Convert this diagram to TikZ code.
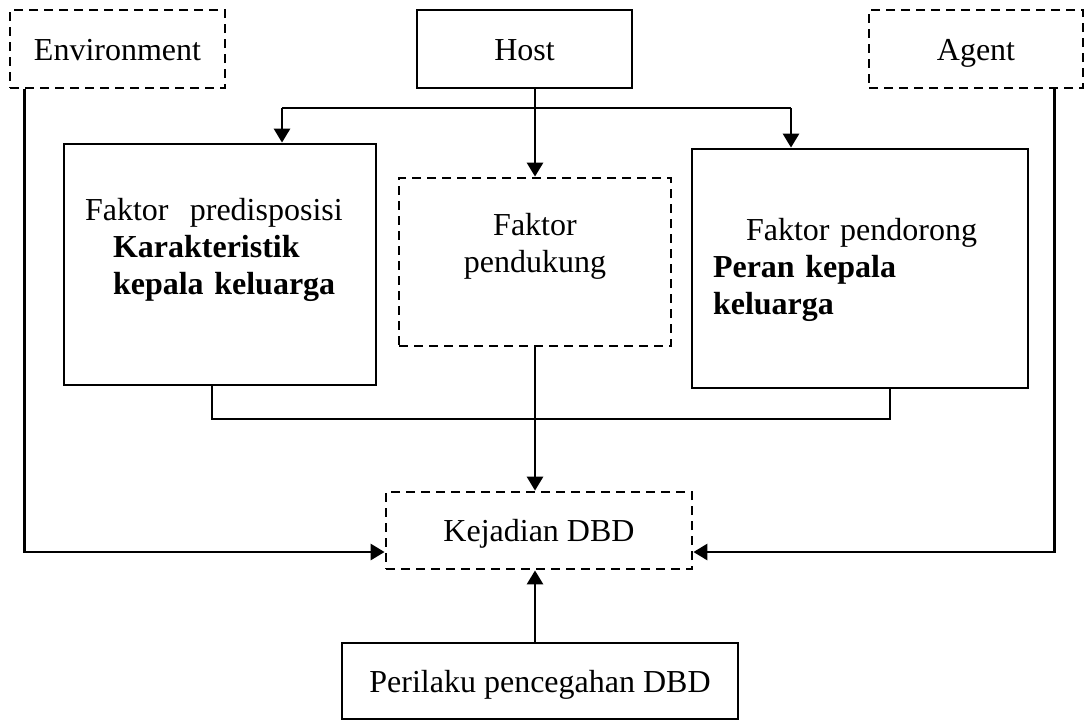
\documentclass[tikz,border=0pt]{standalone}
\usepackage{fontspec}
\setmainfont{Liberation Serif}
\usetikzlibrary{arrows.meta,calc}

\begin{document}
\begin{tikzpicture}[
    x=0.5pt, y=-0.5pt,
    every node/.style={font=\fontsize{16pt}{18.5pt}\selectfont},
    box/.style={rectangle, draw, line width=1.4pt, inner sep=0pt},
    dbox/.style={box, dash pattern=on 4.5pt off 3pt},
    oneline/.style={text height=11pt, text depth=0pt},
    line/.style={line width=1.4pt},
    arrow/.style={line, -{Triangle[length=7pt, width=8pt]}}
]
    \useasboundingbox (0,0) rectangle (1085,720);

    \node[dbox, oneline, minimum width=107.5pt, minimum height=39pt] (env) at (117.5,49) {Environment};
    \node[box, oneline, minimum width=107.5pt, minimum height=39pt] (host) at (524.5,49) {Host};
    \node[dbox, oneline, minimum width=107pt, minimum height=39pt] (agent) at (976,49) {Agent};

    \node[box, minimum width=156pt, minimum height=120.5pt, text width=135pt, align=left,
          text height=11pt, text depth=55.5pt] (predis) at (220,264.5)
          {Faktor\ \ predisposisi\\\hspace*{14pt}\textbf{Karakteristik}\\\hspace*{14pt}\textbf{kepala keluarga}};
    \node[dbox, minimum width=136pt, minimum height=84pt, text width=120pt, align=center,
          text height=11pt, text depth=38pt] (dukung) at (535,262) {Faktor\\pendukung};
    \node[box, minimum width=168pt, minimum height=119.5pt, text width=147pt, align=left,
          text height=11pt, text depth=39.5pt] (dorong) at (860,268.5)
          {\hspace*{16.5pt}Faktor pendorong\\\textbf{Peran kepala}\\\textbf{keluarga}};

    \node[dbox, oneline, minimum width=153pt, minimum height=38.5pt] (kejadian) at (539,530.5) {Kejadian DBD};
    \node[box, oneline, minimum width=198pt, minimum height=38pt] (perilaku) at (540,681) {Perilaku pencegahan DBD};

    % host ke tiga faktor
    \coordinate (hl) at (282,108);
    \coordinate (hr) at (791,108);
    \draw[line] (hl) -- (hr);
    \draw[arrow] (host.south -| dukung.north) -- (dukung.north);
    \draw[arrow] (hl) -- (hl |- predis.north);
    \draw[arrow] (hr) -- (hr |- dorong.north);

    % faktor ke kejadian
    \coordinate (bl) at (212,419);
    \coordinate (br) at (890,419);
    \draw[line] (bl |- predis.south) -- (bl) -- (br) -- (br |- dorong.south);
    \draw[arrow] (dukung.south) -- (dukung.south |- kejadian.north);

    % environment, agent, perilaku
    \coordinate (kl) at ($(kejadian.west)+(0,21.5)$);
    \coordinate (kr) at ($(kejadian.east)+(0,21.5)$);
    \draw[arrow] ([xshift=8pt]env.south west) |- (kl);
    \draw[arrow] ([xshift=-15pt]agent.south east) |- (kr);
    \draw[arrow] (perilaku.north -| dukung.south) -- (kejadian.south -| dukung.south);
\end{tikzpicture}
\end{document}
